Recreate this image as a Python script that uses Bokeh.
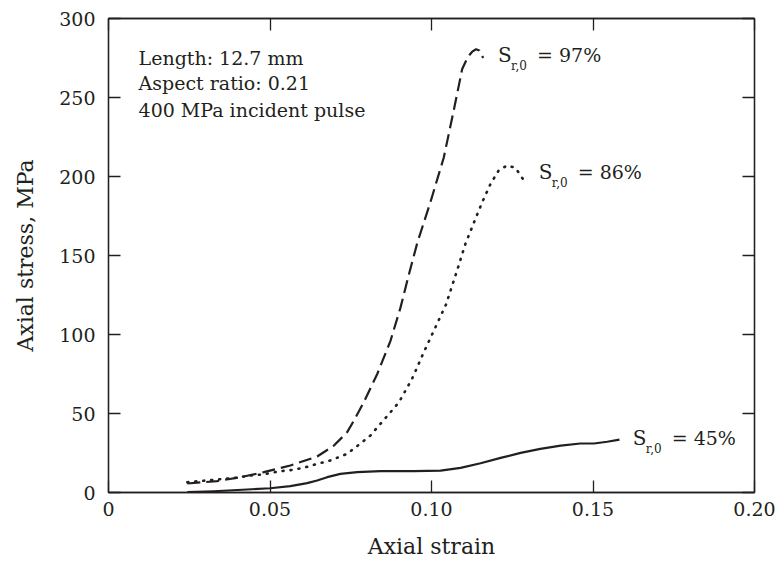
from bokeh.plotting import figure
from bokeh.models import Range1d, FixedTicker, LinearAxis, Label, CustomJSTickFormatter
from bokeh.embed import file_html
from bokeh.resources import INLINE

# ---- data ----
strain_97 = [0.0244, 0.0336, 0.0409, 0.0481, 0.0563, 0.0646, 0.0698, 0.0739, 0.076, 0.079,
             0.0832, 0.0873, 0.0904, 0.093, 0.0956, 0.0997, 0.1038, 0.1069, 0.1095, 0.1112,
             0.1126, 0.1138, 0.1148, 0.1160]
stress_97 = [5.7, 7.2, 9.7, 12.9, 17.1, 22.8, 29.7, 38.2, 45.6, 57.0,
             75.0, 96.0, 117.0, 138.0, 158.0, 184.0, 212.0, 242.0, 268.0, 275.5,
             279.0, 280.5, 279.8, 275.0]

strain_86 = [0.0244, 0.0393, 0.044, 0.0476, 0.0533, 0.0574, 0.061, 0.0646, 0.0687, 0.0739,
             0.078, 0.0811, 0.0842, 0.0899, 0.0940, 0.0974, 0.1009, 0.1045, 0.1080, 0.1105,
             0.1136, 0.1157, 0.1183, 0.1208, 0.1234, 0.1260, 0.1286]
stress_86 = [6.5, 9.3, 10.8, 11.4, 13.5, 14.4, 16.0, 18.1, 20.3, 24.5,
             31.0, 36.1, 43.5, 57.0, 72.0, 87.8, 103.2, 119.0, 141.0, 157.4,
             173.2, 183.7, 195.4, 203.8, 207.0, 205.5, 197.5]

strain_45 = [0.0244, 0.0326, 0.0429, 0.050, 0.0563, 0.0615, 0.0646, 0.0677, 0.0718, 0.077,
             0.0842, 0.0945, 0.1028, 0.109, 0.1152, 0.1214, 0.1276, 0.1337, 0.140, 0.1461,
             0.1503, 0.1544, 0.1582]
stress_45 = [0.2, 0.8, 1.9, 2.7, 4.0, 5.9, 7.6, 9.7, 11.8, 12.9,
             13.5, 13.5, 13.9, 15.6, 18.5, 21.9, 25.1, 27.6, 29.7, 31.0,
             31.0, 32.1, 33.5]

series_values = ["97%", "86%", "45%"]
x_ticks = [0, 0.05, 0.10, 0.15, 0.20]
x_tick_labels = ["0", "0.05", "0.10", "0.15", "0.20"]
y_ticks = [0, 50, 100, 150, 200, 250, 300]
info_lines = ["Length: 12.7 mm", "Aspect ratio: 0.21", "400 MPa incident pulse"]

FONT = "DejaVu Serif"
INK = "#231f20"

p = figure(width=780, height=566, output_backend="svg", toolbar_location=None,
           x_range=Range1d(0, 0.2), y_range=Range1d(0, 300),
           min_border_left=108, min_border_right=26, min_border_top=18, min_border_bottom=74,
           background_fill_color="white", border_fill_color="white")
p.grid.visible = False
p.outline_line_color = INK
p.outline_line_width = 1.3

def style_axis(ax, ticks):
    ax.ticker = FixedTicker(ticks=ticks)
    ax.axis_line_color = INK
    ax.axis_line_width = 1.3
    ax.major_tick_line_color = INK
    ax.major_tick_line_width = 1.3
    ax.major_tick_in = 12
    ax.major_tick_out = 0
    ax.minor_tick_line_color = None
    ax.major_label_text_font = FONT
    ax.major_label_text_font_size = "19px"
    ax.major_label_text_color = INK
    ax.axis_label_text_font = FONT
    ax.axis_label_text_font_size = "22px"
    ax.axis_label_text_font_style = "normal"
    ax.axis_label_text_color = INK

style_axis(p.xaxis[0], x_ticks)
style_axis(p.yaxis[0], y_ticks)
p.xaxis[0].major_label_overrides = {t: s for t, s in zip(x_ticks, x_tick_labels)}
p.xaxis[0].major_label_standoff = 9
p.yaxis[0].major_label_standoff = 13
p.xaxis[0].axis_label = "Axial strain"
p.yaxis[0].axis_label = "Axial stress, MPa"
p.xaxis[0].axis_label_standoff = 15
p.yaxis[0].axis_label_standoff = 18

blank = CustomJSTickFormatter(code="return ''")
top = LinearAxis(formatter=blank)
style_axis(top, x_ticks)
top.major_label_standoff = 0
right = LinearAxis(formatter=blank)
style_axis(right, y_ticks)
right.major_label_standoff = 0
p.add_layout(top, "above")
p.add_layout(right, "right")

# curves
p.line(strain_97, stress_97, line_color=INK, line_width=2.2, line_dash="13 6", line_join="round")
p.line(strain_86, stress_86, line_color=INK, line_width=2.6, line_dash="1 7", line_cap="round")
p.line(strain_45, stress_45, line_color=INK, line_width=2.2, line_join="round")

# curve labels: S_{r,0} = xx%
label_x = [0.1206, 0.1332, 0.1623]
label_y = [277.2, 202.7, 34.2]
for lx, ly, v in zip(label_x, label_y, series_values):
    p.add_layout(Label(x=lx, y=ly, text="S", text_font=FONT, text_font_size="20px",
                       text_color=INK, text_baseline="middle", text_align="left"))
    p.add_layout(Label(x=lx, y=ly, x_offset=13, y_offset=-11, text="r,0", text_font=FONT,
                       text_font_size="12px", text_color=INK, text_baseline="middle",
                       text_align="left"))
    p.add_layout(Label(x=lx, y=ly, x_offset=39, text="= " + v, text_font=FONT,
                       text_font_size="19px", text_color=INK, text_baseline="middle",
                       text_align="left"))

# info text
info_x = 0.0093
info_y = [275.3, 258.9, 241.8]
for t, yy in zip(info_lines, info_y):
    p.add_layout(Label(x=info_x, y=yy, text=t, text_font=FONT, text_font_size="19px",
                       text_color=INK, text_baseline="middle", text_align="left"))

open("out.html", "w").write(file_html(p, INLINE))
